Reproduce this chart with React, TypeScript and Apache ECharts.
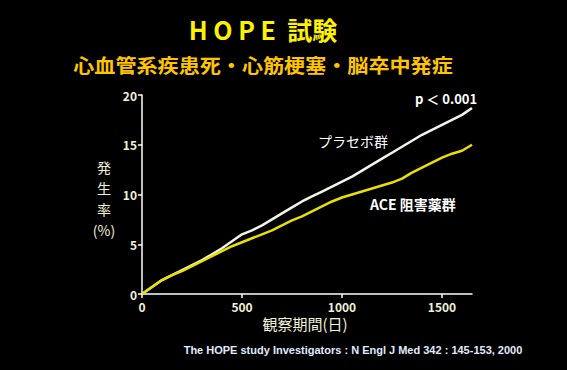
import React, { useEffect, useRef } from "react";
import * as echarts from "echarts";

const days = [0, 50, 100, 150, 200, 250, 300, 350, 400, 450, 500, 550, 600, 650, 700, 750, 800, 850, 900, 950, 1000, 1050, 1100, 1150, 1200, 1250, 1300, 1350, 1400, 1450, 1500, 1550, 1600, 1650];
const placebo = [0, 0.7, 1.4, 1.9, 2.4, 2.9, 3.4, 4.0, 4.6, 5.3, 6.0, 6.4, 6.9, 7.5, 8.1, 8.7, 9.3, 9.8, 10.3, 10.8, 11.3, 11.8, 12.4, 13.0, 13.6, 14.2, 14.8, 15.4, 16.0, 16.5, 17.0, 17.5, 18.0, 18.7];
const ace = [0, 0.7, 1.4, 1.9, 2.3, 2.8, 3.3, 3.8, 4.3, 4.8, 5.2, 5.6, 6.0, 6.4, 6.9, 7.4, 7.8, 8.3, 8.8, 9.3, 9.7, 10.0, 10.3, 10.6, 10.9, 11.2, 11.6, 12.2, 12.7, 13.2, 13.7, 14.1, 14.4, 15.0];
const xTicks = [0, 500, 1000, 1500];
const yTicks = [0, 5, 10, 15, 20];

const FONT = "'Noto Sans CJK JP', 'Liberation Sans', sans-serif";
const LABEL = "#f2f2d8";

export default function App() {
  const ref = useRef<HTMLDivElement>(null);
  useEffect(() => {
    const chart = echarts.init(ref.current!, null, { renderer: "svg" });
    chart.setOption({
      animation: false,
      backgroundColor: "#000000",
      grid: { left: 142, right: 95, top: 95, bottom: 76 },
      xAxis: {
        type: "value",
        min: 0,
        max: 1650,
        interval: 500,
        splitLine: { show: false },
        axisLine: { lineStyle: { color: "#ffffff", width: 1.5 } },
        axisTick: { customValues: xTicks, length: 4, lineStyle: { color: "#ffffff", width: 1.5 } },
        axisLabel: { customValues: xTicks, formatter: (v: number) => String(v), color: LABEL, fontSize: 12, fontWeight: "bold", fontFamily: FONT, margin: 6 },
      },
      yAxis: {
        type: "value",
        min: 0,
        max: 20,
        interval: 5,
        splitLine: { show: false },
        axisLine: { show: true, lineStyle: { color: "#ffffff", width: 1.5 } },
        axisTick: { show: true, customValues: yTicks, length: 4, lineStyle: { color: "#ffffff", width: 1.5 } },
        axisLabel: { customValues: yTicks, formatter: (v: number) => String(v), color: LABEL, fontSize: 12, fontWeight: "bold", fontFamily: FONT, margin: 5 },
      },
      series: [
        {
          type: "line",
          name: "プラセボ群",
          data: days.map((d, i) => [d, placebo[i]]),
          showSymbol: false,
          lineStyle: { color: "#f4f4e8", width: 2.5 },
          z: 2,
        },
        {
          type: "line",
          name: "ACE 阻害薬群",
          data: days.map((d, i) => [d, ace[i]]),
          showSymbol: false,
          lineStyle: { color: "#e8e000", width: 2.5 },
          z: 3,
        },
      ],
      graphic: [
        { type: "text", x: 263, y: 29, style: { text: "H O P E  試験", fill: "#fff200", font: `bold 25px ${FONT}`, align: "center", verticalAlign: "middle" } },
        { type: "text", x: 263, y: 65, scaleX: 1.11, style: { text: "心血管系疾患死・心筋梗塞・脳卒中発症", fill: "#ffc400", font: `bold 19px ${FONT}`, align: "center", verticalAlign: "middle" } },
        { type: "text", x: 415, y: 98, style: { text: "p ＜ 0.001", fill: "#ffffff", font: `bold 13px ${FONT}`, align: "left", verticalAlign: "middle" } },
        { type: "text", x: 318, y: 141, style: { text: "プラセボ群", fill: "#ffffff", font: `14px ${FONT}`, align: "left", verticalAlign: "middle" } },
        { type: "text", x: 370, y: 204, style: { text: "ACE 阻害薬群", fill: "#ffffff", font: `bold 14px ${FONT}`, align: "left", verticalAlign: "middle" } },
        { type: "text", x: 104, y: 198, style: { text: "発\n生\n率\n(%)", fill: LABEL, font: `14px ${FONT}`, lineHeight: 21, align: "center", verticalAlign: "middle" } },
        { type: "text", x: 305, y: 323, style: { text: "観察期間(日)", fill: LABEL, font: `15px ${FONT}`, align: "center", verticalAlign: "middle" } },
        { type: "text", x: 353, y: 350, style: { text: "The HOPE study Investigators : N Engl J Med 342 : 145-153, 2000", fill: "#e0ecff", font: `bold 11px 'Liberation Sans', sans-serif`, align: "center", verticalAlign: "middle" } },
      ],
    });
    return () => chart.dispose();
  }, []);
  return <div ref={ref} style={{ width: 567, height: 370, position: "absolute", left: 0, top: 0 }} />;
}
